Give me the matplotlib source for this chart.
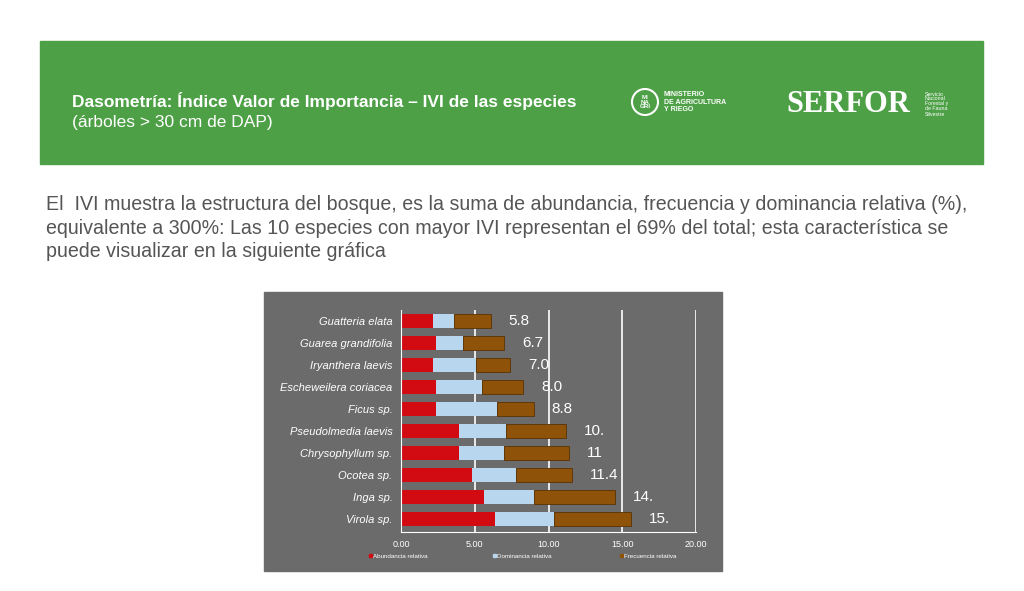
import matplotlib.pyplot as plt
from matplotlib.patches import Rectangle, Circle
import numpy as np

plt.rcParams["font.family"] = "Liberation Sans"

# ─── Data ─────────────────────────────────────────────────────────────────────
species = ["Virola sp.", "Inga sp.", "Ocotea sp.", "Chrysophyllum sp.",
           "Pseudolmedia laevis", "Ficus sp.", "Escheweilera coriacea",
           "Iryanthera laevis", "Guarea grandifolia", "Guatteria elata"]
abundancia = [6.4, 5.6, 4.8, 3.9, 3.9, 2.4, 2.4, 2.2, 2.4, 2.2]
dominancia = [4.0, 3.4, 3.0, 3.1, 3.2, 4.1, 3.1, 2.9, 1.8, 1.4]
frecuencia = [5.2, 5.5, 3.8, 4.4, 4.1, 2.5, 2.8, 2.3, 2.8, 2.5]
value_labels = ["15.", "14.", "11.4", "11", "10.", "8.8", "8.0", "7.0", "6.7", "5.8"]
x_ticks = [0, 5, 10, 15, 20]

W, H = 1024, 591
fig = plt.figure(figsize=(W / 100, H / 100), dpi=100)
bg = fig.add_axes([0, 0, 1, 1])
bg.set_xlim(0, W)
bg.set_ylim(H, 0)
bg.axis("off")

# ─── Header ───────────────────────────────────────────────────────────────────
bg.add_patch(Rectangle((40, 41), 943, 123, color="#4da046"))
bg.text(72, 101, "Dasometría: Índice Valor de Importancia – IVI de las especies",
        color="white", fontsize=12.5, fontweight="bold", va="center")
bg.text(72, 122, "(árboles > 30 cm de DAP)", color="white", fontsize=12.5, va="center")
bg.add_patch(Circle((645, 102), 13, fill=False, ec="white", lw=1.5))
bg.text(645, 102, "MI\nNA\nGRI", color="white", fontsize=4.5, fontweight="bold",
        ha="center", va="center", linespacing=0.9)
bg.text(664, 102, "MINISTERIO\nDE AGRICULTURA\nY RIEGO", color="white", fontsize=5,
        fontweight="bold", va="center", linespacing=1.1)
bg.text(786, 104, "SERFOR", color="white", fontsize=22, fontweight="bold",
        family="Liberation Serif", va="center")
bg.text(925, 104, "Servicio\nNacional\nForestal y\nde Fauna\nSilvestre", color="white",
        fontsize=3.8, va="center", linespacing=1.0)

# ─── Body text ────────────────────────────────────────────────────────────────
body = ("El  IVI muestra la estructura del bosque, es la suma de abundancia, frecuencia y dominancia relativa (%),\n"
        "equivalente a 300%: Las 10 especies con mayor IVI representan el 69% del total; esta característica se\n"
        "puede visualizar en la siguiente gráfica")
bg.text(46, 228, body, color="#555555", fontsize=14.1, va="center", linespacing=1.32)

# ─── Chart panel ──────────────────────────────────────────────────────────────
bg.add_patch(Rectangle((264, 292), 458, 279, color="#6b6b6b"))

ax = fig.add_axes([401 / W, 1 - 532 / H, 295 / W, 222 / H])
ax.set_facecolor("none")
y = np.arange(len(species))
a = np.array(abundancia)
d = np.array(dominancia)
f = np.array(frecuencia)
for xv in x_ticks[1:]:
    ax.axvline(xv, color="white", lw=1.2, zorder=0)
ax.barh(y, a, height=0.62, color="#d20a11", zorder=2)
ax.barh(y, d, left=a, height=0.62, color="#b8d6ee", zorder=2)
ax.barh(y, f, left=a + d, height=0.62, color="#8e5209", edgecolor="#5a3206", lw=0.6, zorder=2)
for yi, tot, lab in zip(y, a + d + f, value_labels):
    ax.text(tot + 1.2, yi, lab, color="white", fontsize=11, va="center")
ax.set_xlim(0, 20)
ax.set_ylim(-0.6, len(species) - 0.5)
ax.set_yticks(y)
ax.set_yticklabels(species, color="white", fontsize=8, style="italic")
ax.set_xticks(x_ticks)
ax.set_xticklabels([f"{v:.2f}" for v in x_ticks], color="white", fontsize=6.5)
ax.tick_params(length=0, pad=6)
for s in ax.spines.values():
    s.set_visible(False)
ax.spines["left"].set_visible(True)
ax.spines["left"].set_color("white")
ax.spines["bottom"].set_visible(True)
ax.spines["bottom"].set_color("white")

# legend
for lx, col, txt in [(373, "#d20a11", "Abundancia relativa"),
                     (497, "#b8d6ee", "Dominancia relativa"),
                     (624, "#8e5209", "Frecuencia relativa")]:
    bg.add_patch(Rectangle((lx - 4, 554), 3, 3, color=col))
    bg.text(lx, 556, txt, color="white", fontsize=4.5, va="center")

fig.savefig("out.png", dpi=100)
